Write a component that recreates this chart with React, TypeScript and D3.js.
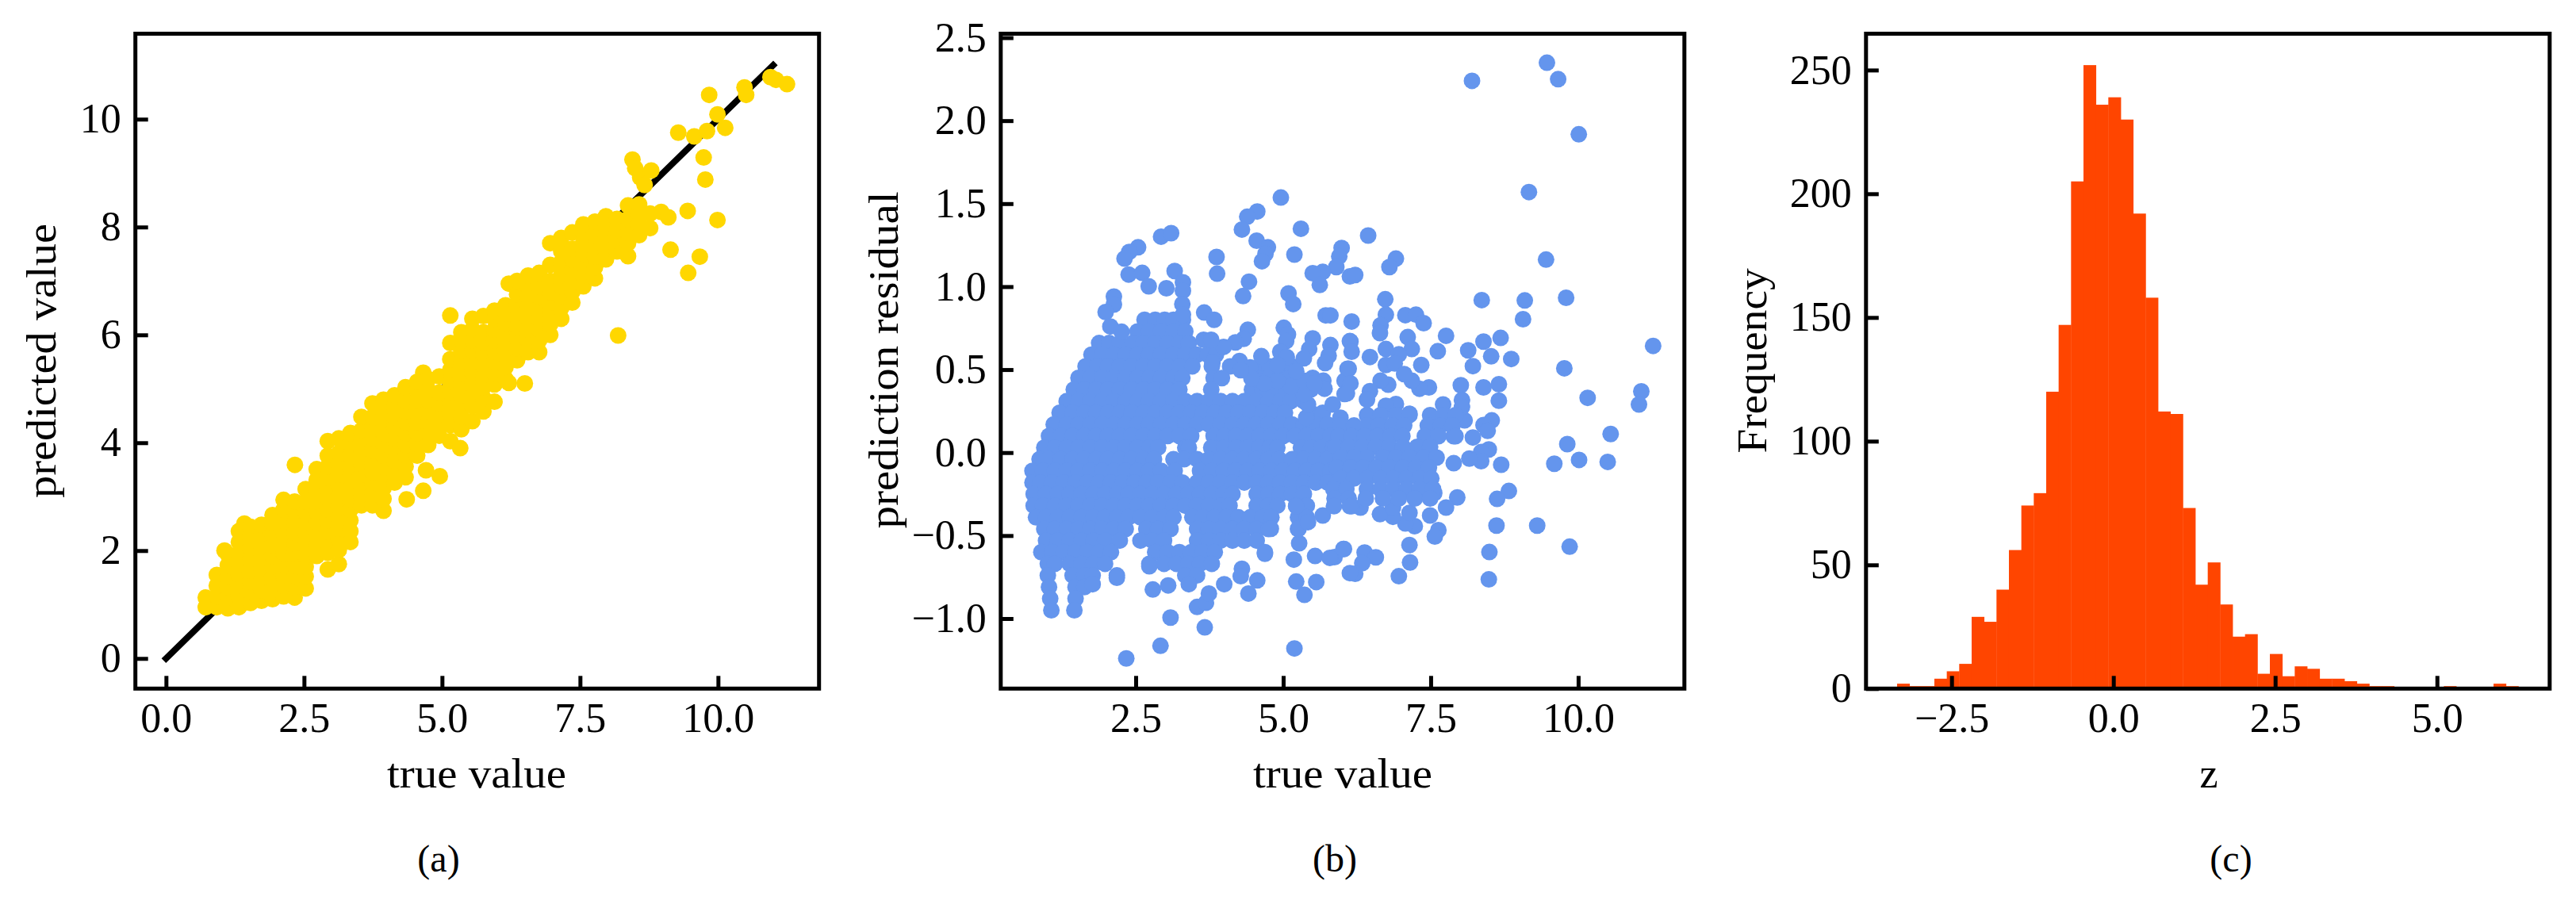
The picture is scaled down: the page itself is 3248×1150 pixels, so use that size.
import React, { useRef, useEffect } from "react";
import * as d3 from "d3";

const SERIF = "'Liberation Serif', serif";

// panel (a): true value -> list of predicted values
const predictedColumns: [number, number[]][] = [
  [0.72, [0.95, 1.13]],
  [0.92, [0.95, 1.15, 1.35, 1.55]],
  [1.06, [2.0]],
  [1.12, [0.93, 1.13, 1.33, 1.53, 1.73, 1.93]],
  [1.32, [0.95, 1.15, 1.35, 1.55, 1.75, 1.95, 2.16, 2.36]],
  [1.42, [2.5]],
  [1.53, [1.03, 1.23, 1.43, 1.63, 1.83, 2.04, 2.24, 2.44]],
  [1.73, [1.07, 1.27, 1.47, 1.67, 1.87, 2.08, 2.28, 2.48]],
  [1.93, [1.1, 1.3, 1.5, 1.7, 1.9, 2.11, 2.31, 2.51, 2.66]],
  [2.13, [1.15, 1.35, 1.55, 1.75, 1.96, 2.16, 2.36, 2.56, 2.76, 2.94]],
  [2.33, [1.13, 1.33, 1.53, 1.73, 1.94, 2.14, 2.34, 2.54, 2.74, 2.91]],
  [2.53, [1.3, 1.52, 1.7, 1.9, 2.11, 2.31, 2.51, 2.71, 2.91, 3.14]],
  [2.73, [1.9, 2.11, 2.31, 2.51, 2.71, 2.91, 3.11, 3.31, 3.51]],
  [2.93, [1.65, 1.96, 2.16, 2.36, 2.56, 2.76, 2.96, 3.16, 3.36, 3.56, 3.76, 4.03]],
  [3.13, [1.75, 2.01, 2.21, 2.41, 2.61, 2.81, 3.01, 3.21, 3.41, 3.61, 3.81, 4.08]],
  [3.34, [2.16, 2.36, 2.56, 2.76, 2.96, 3.16, 3.36, 3.56, 3.76, 3.98, 4.18]],
  [3.54, [2.84, 3.01, 3.21, 3.41, 3.61, 3.81, 4.03, 4.23, 4.48]],
  [3.74, [2.84, 3.06, 3.26, 3.46, 3.66, 3.86, 4.08, 4.28, 4.48, 4.73]],
  [3.94, [2.74, 2.96, 3.16, 3.36, 3.56, 3.76, 3.98, 4.18, 4.38, 4.58, 4.8]],
  [4.14, [3.26, 3.46, 3.66, 3.86, 4.08, 4.28, 4.48, 4.68, 4.88]],
  [4.34, [3.36, 3.56, 3.76, 3.96, 4.18, 4.38, 4.58, 4.78, 5.03]],
  [4.36, [2.95]],
  [4.55, [3.76, 3.98, 4.18, 4.38, 4.58, 4.78, 4.98, 5.13]],
  [4.66, [3.11, 5.3]],
  [4.71, [3.49]],
  [4.75, [3.96, 4.18, 4.38, 4.58, 4.78, 4.98, 5.18]],
  [4.96, [3.38]],
  [4.95, [4.13, 4.33, 4.53, 4.73, 4.93, 5.23]],
  [5.15, [4.03, 4.33, 4.53, 4.73, 4.93, 5.13, 5.35, 5.55, 5.85, 6.36]],
  [5.33, [3.9]],
  [5.35, [4.25, 4.48, 4.68, 4.88, 5.08, 5.3, 5.5, 5.7, 5.9, 6.05]],
  [5.55, [4.4, 4.68, 4.88, 5.08, 5.3, 5.5, 5.7, 5.9, 6.1, 6.3]],
  [5.75, [4.58, 4.83, 5.03, 5.23, 5.43, 5.65, 5.85, 6.05, 6.35]],
  [5.95, [4.76, 5.08, 5.3, 5.5, 5.7, 5.9, 6.1, 6.3, 6.45]],
  [6.15, [5.18, 5.4, 5.6, 5.8, 6.0, 6.2, 6.4, 6.55]],
  [6.21, [5.11, 6.95]],
  [6.36, [5.53, 5.75, 5.95, 6.15, 6.35, 6.55, 6.75, 7.0]],
  [6.5, [5.1]],
  [6.56, [5.68, 5.9, 6.1, 6.3, 6.5, 6.7, 6.9, 7.1]],
  [6.76, [5.68, 5.9, 6.1, 6.3, 6.5, 6.7, 6.9, 7.15]],
  [6.96, [6.0, 6.2, 6.4, 6.6, 6.8, 7.0, 7.3, 7.7]],
  [7.16, [6.3, 6.5, 6.7, 6.9, 7.1, 7.35, 7.55, 7.8]],
  [7.36, [6.6, 6.8, 7.0, 7.2, 7.4, 7.6, 7.9]],
  [7.56, [6.9, 7.1, 7.3, 7.5, 7.7, 7.9, 8.05]],
  [7.77, [7.05, 7.25, 7.45, 7.65, 7.85, 8.1]],
  [7.97, [7.4, 7.6, 7.8, 8.0, 8.2]],
  [8.17, [7.55, 7.75, 7.95, 8.15]],
  [8.37, [7.46, 7.7, 7.9, 8.15, 8.4]],
  [8.57, [7.85, 8.05, 8.25, 8.42]],
  [8.77, [7.98, 8.25]],
  [8.97, [8.28]],
  [9.1, [8.18]],
  [9.14, [7.58]],
  [8.45, [9.25]],
  [8.5, [9.09]],
  [8.59, [8.92]],
  [8.67, [8.78]],
  [8.79, [9.05]],
  [9.28, [9.75]],
  [9.45, [8.3]],
  [9.46, [7.15]],
  [9.57, [9.68]],
  [9.67, [7.45]],
  [9.74, [9.29]],
  [9.77, [8.88]],
  [9.8, [9.78]],
  [9.84, [10.45]],
  [9.99, [10.09, 8.13]],
  [10.13, [9.84]],
  [10.48, [10.59]],
  [10.51, [10.45]],
  [10.95, [10.78]],
  [11.05, [10.73]],
  [11.25, [10.65]],
  [8.19, [5.99]],
  [2.335, [3.59]],
];

// panel (b): the dense body, residual -> list of true values
const residualRows: [number, number[]][] = [
  [0.8, [2.65, 2.83, 2.99, 3.14, 3.3]],
  [0.73, [2.53, 2.73, 2.93, 3.14, 3.34]],
  [0.66, [1.88, 2.05, 2.23, 2.45, 2.63, 2.83, 3.04, 3.24, 3.4]],
  [0.59, [1.75, 1.93, 2.13, 2.33, 2.53, 2.73, 2.93, 3.14, 3.34, 3.54, 3.72, 3.86]],
  [0.52, [1.65, 1.85, 2.03, 2.23, 2.43, 2.63, 2.83, 3.04, 3.24, 3.46, 3.79, 4.6, 4.77, 5.0, 5.15]],
  [0.45, [1.53, 1.73, 1.93, 2.13, 2.33, 2.53, 2.73, 2.93, 3.14, 3.29, 3.82, 4.55, 4.75, 4.95, 5.1, 5.5]],
  [0.38, [1.45, 1.63, 1.83, 2.03, 2.23, 2.43, 2.63, 2.83, 3.04, 3.24, 3.78, 4.47, 4.65, 4.85, 5.05, 5.25, 5.47]],
  [0.31, [1.33, 1.53, 1.73, 1.93, 2.13, 2.33, 2.53, 2.73, 2.93, 3.14, 3.34, 3.54, 3.74, 3.94, 4.14, 4.34, 4.54, 4.75, 4.95, 5.13, 5.35]],
  [0.24, [1.21, 1.43, 1.63, 1.83, 2.03, 2.23, 2.43, 2.63, 2.83, 3.04, 3.24, 3.44, 3.64, 3.84, 4.04, 4.24, 4.44, 4.65, 4.85, 5.03, 5.47, 5.67]],
  [0.17, [1.11, 1.33, 1.53, 1.73, 1.93, 2.13, 2.33, 2.53, 2.73, 2.93, 3.14, 3.34, 3.54, 3.74, 3.94, 4.14, 4.34, 4.54, 4.75, 4.95, 5.15, 5.35, 5.55, 5.75]],
  [0.1, [1.03, 1.23, 1.43, 1.63, 1.83, 2.03, 2.23, 2.43, 2.63, 2.83, 3.04, 3.24, 3.44, 3.82, 4.0, 4.2, 4.4, 4.6, 4.8, 5.0, 5.2, 5.4, 5.6, 5.8]],
  [0.03, [0.95, 1.13, 1.33, 1.53, 1.73, 1.93, 2.13, 2.33, 2.53, 2.73, 2.88, 3.34, 3.4, 3.78, 4.0, 4.2, 4.4, 4.6, 4.77, 4.9, 5.3, 5.47, 5.65, 5.85]],
  [-0.04, [0.87, 1.03, 1.23, 1.43, 1.63, 1.83, 2.03, 2.23, 2.43, 2.63, 2.81, 3.14, 3.32, 3.54, 3.74, 3.94, 4.14, 4.34, 4.54, 4.75, 4.93, 5.15, 5.35, 5.55, 5.75]],
  [-0.11, [0.75, 0.93, 1.13, 1.33, 1.53, 1.73, 1.93, 2.13, 2.33, 2.53, 2.73, 2.93, 3.16, 3.59, 3.79, 3.99, 4.19, 4.39, 4.6, 4.8, 5.0, 5.2, 5.4, 5.6, 5.8]],
  [-0.18, [0.75, 0.88, 1.08, 1.28, 1.48, 1.68, 1.88, 2.08, 2.28, 2.48, 2.68, 2.88, 3.09, 3.29, 3.54, 3.74, 3.94, 4.14, 4.34, 4.55, 4.75, 4.95, 5.15, 5.35, 5.55, 5.75]],
  [-0.25, [0.77, 0.98, 1.18, 1.38, 1.58, 1.78, 1.98, 2.18, 2.38, 2.58, 2.78, 2.98, 3.19, 3.39, 3.59, 3.79, 3.99, 4.14, 4.55, 4.75, 4.95, 5.15, 5.35]],
  [-0.32, [0.77, 0.93, 1.13, 1.33, 1.53, 1.73, 1.93, 2.13, 2.33, 2.53, 2.73, 2.93, 3.14, 3.34, 3.54, 3.74, 3.94, 4.09, 4.55, 4.75, 4.9, 5.22, 5.4]],
  [-0.39, [0.81, 0.98, 1.18, 1.38, 1.58, 1.78, 1.98, 2.18, 2.38, 2.58, 2.78, 2.98, 3.14, 3.46, 3.64, 3.84, 4.04, 4.24, 4.44, 4.65, 4.8, 5.25, 5.4]],
  [-0.46, [0.95, 1.13, 1.33, 1.53, 1.73, 1.93, 2.13, 2.33, 2.68, 2.88, 3.09, 3.54, 3.74, 3.94, 4.14, 4.34, 4.55, 4.75, 5.25]],
  [-0.53, [0.98, 1.18, 1.38, 1.58, 1.78, 1.98, 2.23, 2.58, 2.78, 2.98, 3.54, 3.74, 3.94, 4.14, 4.34, 4.55]],
  [-0.6, [0.9, 1.08, 1.28, 1.48, 1.68, 1.88, 2.08, 2.83, 3.04, 3.24, 3.44, 3.64, 3.84, 4.69]],
  [-0.67, [1.01, 1.13, 1.38, 1.58, 1.78, 1.98, 2.73, 2.98, 3.19, 3.39, 3.59, 3.79]],
  [-0.74, [1.01, 1.43, 1.63, 1.77, 2.18, 3.34, 3.54]],
  [-0.81, [1.03, 1.48, 1.63]],
  [-0.88, [1.05, 1.48]],
  [-0.95, [1.07, 1.46]],
];

// panel (b): everything that can be told apart, [true value, residual]
const residualPoints: [number, number][] = [
  [9.47, 2.349], [9.66, 2.25], [8.2, 2.24], [10.01, 1.918], [9.165, 1.57], [4.96, 1.537], [4.56, 1.453], [4.39, 1.421],
  [4.3, 1.344], [5.3, 1.349], [2.93, 1.301], [3.1, 1.322], [2.54, 1.237], [2.39, 1.209], [2.31, 1.169], [3.87, 1.179],
  [3.88, 1.078], [4.55, 1.277], [4.74, 1.237], [4.7, 1.198], [4.64, 1.153], [5.19, 1.193], [5.99, 1.233], [5.95, 1.182],
  [5.9, 1.118], [5.67, 1.089], [5.5, 1.081], [5.62, 1.01], [6.13, 1.062], [2.38, 1.073], [2.61, 1.083], [2.72, 1.002],
  [3.16, 1.094], [3.3, 1.026], [3.3, 0.975], [3.02, 0.99], [3.29, 0.895], [3.3, 0.831], [2.13, 0.94], [2.13, 0.892],
  [1.99, 0.847], [2.07, 0.76], [2.26, 0.728], [4.42, 1.03], [4.32, 0.943], [5.09, 0.959], [5.17, 0.895], [5.72, 0.827],
  [5.8, 0.827], [6.16, 0.79], [3.66, 0.844], [3.83, 0.8], [4.4, 0.74], [4.33, 0.685], [4.19, 0.664], [3.99, 0.637],
  [3.65, 0.68], [3.78, 0.68], [5.01, 0.752], [5.08, 0.712], [5.05, 0.672], [5.5, 0.688], [5.44, 0.624], [5.35, 0.568],
  [5.8, 0.648], [5.77, 0.584], [5.71, 0.54], [6.13, 0.672], [6.09, 0.505], [4.63, 0.581], [4.95, 0.608], [5.06, 0.576],
  [4.26, 0.552], [4.1, 0.52], [4.44, 0.513], [3.8, 0.541], [5.68, 0.433], [5.7, 0.385], [6.04, 0.433], [6.04, 0.353],
  [5.84, 0.29], [5.97, 0.21], [5.39, 0.21], [5.42, 0.29], [5.35, 0.353], [5.13, 0.4], [4.9, 0.433], [5.35, 0.433],
  [5.53, 0.417], [4.9, 0.53], [5.22, 0.49], [4.68, 0.417], [4.46, 0.449], [4.28, 0.497], [3.96, 0.449],
  [9.455, 1.163], [8.365, 0.919], [9.095, 0.917], [9.795, 0.933], [9.065, 0.804], [6.73, 0.924], [6.74, 0.831], [6.44, 1.308],
  [6.22, 1.07], [6.91, 1.169], [6.8, 1.118], [6.65, 0.767], [6.64, 0.72], [7.07, 0.828], [7.25, 0.831], [7.38, 0.78],
  [7.76, 0.704], [7.62, 0.611], [6.14, 0.669], [6.16, 0.608], [7.11, 0.696], [7.18, 0.624], [8.395, 0.669], [8.685, 0.691],
  [8.525, 0.58], [8.135, 0.616], [8.215, 0.521], [8.865, 0.564], [9.765, 0.508], [11.27, 0.643], [11.07, 0.369], [11.03, 0.29],
  [10.16, 0.33], [8.01, 0.406], [8.03, 0.317], [8.395, 0.393], [8.655, 0.412], [8.655, 0.313], [6.47, 0.576], [7.34, 0.528],
  [6.11, 0.505], [6.74, 0.624], [6.96, 0.592], [6.74, 0.528], [6.89, 0.537], [6.14, 0.417], [6.08, 0.357], [6.78, 0.409],
  [6.65, 0.433], [7.47, 0.393], [7.31, 0.385], [7.18, 0.433], [7.05, 0.473], [6.47, 0.37], [6.42, 0.32], [7.71, 0.29],
  [6.91, 0.293], [6.74, 0.282], [7.14, 0.234], [10.55, 0.112], [9.815, 0.051], [10.015, -0.044], [9.595, -0.067], [10.5, -0.056],
  [8.695, -0.073], [8.825, -0.231], [8.625, -0.279], [7.95, -0.27], [8.615, -0.44], [9.305, -0.44], [9.855, -0.567], [8.495, -0.599],
  [8.485, -0.764], [8.535, 0.194], [8.395, 0.166], [8.465, 0.131], [8.075, 0.194], [8.215, 0.091], [8.485, 0.019], [8.355, 0.003],
  [8.355, -0.052], [8.155, -0.036], [7.89, -0.064], [8.03, 0.274], [7.83, 0.194], [7.89, 0.099], [7.45, -0.252], [7.56, -0.244],
  [7.76, -0.331], [7.49, -0.379], [7.63, -0.467], [7.57, -0.506], [7.23, -0.443], [7.07, -0.427], [7.14, -0.363], [6.86, -0.387],
  [6.64, -0.371], [6.86, -0.331], [6.31, -0.331], [6.16, -0.323], [7.14, -0.557], [7.15, -0.662], [6.96, -0.745], [6.02, -0.581],
  [6.38, -0.602], [6.57, -0.631], [6.34, -0.666], [6.22, -0.73], [5.87, -0.63],
  [6.42, 0.226], [6.65, 0.226], [6.91, 0.226], [7.14, 0.226], [7.49, 0.226], [7.72, 0.226], [7.92, 0.226],
  [5.97, 0.163], [6.2, 0.163], [6.42, 0.163], [6.62, 0.163], [6.85, 0.163], [7.05, 0.163], [7.45, 0.163], [7.67, 0.163], [7.87, 0.163],
  [5.94, 0.099], [6.16, 0.099], [6.38, 0.099], [6.6, 0.099], [6.82, 0.099], [7.02, 0.099], [7.4, 0.099], [7.63, 0.099], [7.92, 0.099],
  [5.89, 0.035], [6.11, 0.035], [6.34, 0.035], [6.57, 0.035], [6.8, 0.035], [7.03, 0.035], [7.27, 0.035], [7.49, 0.035],
  [5.98, -0.03], [6.2, -0.03], [6.42, -0.03], [6.69, -0.03], [6.91, -0.03], [7.14, -0.03], [7.38, -0.03], [7.6, -0.03],
  [5.91, -0.09], [6.14, -0.09], [6.36, -0.09], [6.58, -0.09], [6.8, -0.09], [7.03, -0.09], [7.25, -0.09], [7.47, -0.09],
  [5.98, -0.156], [6.2, -0.156], [6.42, -0.156], [6.65, -0.156], [6.87, -0.156], [7.09, -0.156], [7.31, -0.156], [7.51, -0.156],
  [5.85, -0.22], [6.07, -0.22], [6.42, -0.22], [6.65, -0.22], [6.87, -0.22], [7.09, -0.22], [7.31, -0.22], [7.54, -0.22],
  [5.87, -0.276], [6.11, -0.276], [6.4, -0.276], [6.69, -0.276], [6.96, -0.276], [7.23, -0.276], [7.49, -0.276],
  [2.18, -0.754], [1.77, -0.793], [2.73, -0.685], [2.79, -0.825], [3.05, -0.8], [3.4, -0.793], [3.54, -0.93], [3.69, -0.905],
  [3.74, -0.849], [4.0, -0.793], [4.3, -0.7], [4.28, -0.745], [4.56, -0.77], [4.41, -0.849], [3.09, -0.994], [3.67, -1.053],
  [2.92, -1.164], [2.34, -1.24], [5.19, -1.18], [5.18, -0.645], [5.27, -0.546], [5.26, -0.459], [5.42, -0.419], [5.54, -0.623],
  [5.79, -0.634], [6.03, -0.581], [5.22, -0.777], [5.56, -0.78], [5.36, -0.857], [6.13, -0.726], [4.69, -0.61], [4.79, -0.459],
  [5.22, -0.323], [5.67, -0.379], [5.86, -0.323], [6.13, -0.323],
];

// panel (c): one count per bin, bins run from zStart in steps of zBinWidth
const zStart = -3.342;
const zBinWidth = 0.192;
const zCounts = [
  2, 1, 1, 4, 7, 10, 29, 27, 40, 56,
  74, 79, 120, 147, 205, 252, 236, 239, 230, 192,
  158, 112, 111, 73, 42, 51, 34, 21, 22, 6,
  14, 5, 9, 8, 4, 4, 3, 2, 1, 1,
  0, 0, 0, 0, 1, 0, 0, 0, 2, 1,
];

const lineEnds = [0, 11];
const trueTicks = [0, 2.5, 5, 7.5, 10];
const predictedTicks = [0, 2, 4, 6, 8, 10];
const residualXTicks = [2.5, 5, 7.5, 10];
const residualYTicks = [-1, -0.5, 0, 0.5, 1, 1.5, 2, 2.5];
const zTicks = [-2.5, 0, 2.5, 5];
const freqTicks = [0, 50, 100, 150, 200, 250];

const fmt1 = (d: d3.NumberValue) => d3.format(".1f")(+d).replace("-", "\u2212");
const fmt0 = (d: d3.NumberValue) => d3.format("d")(+d);

const TOP = 42.5;
const BOTTOM = 868.3;

function drawAxes(
  svg: d3.Selection<SVGSVGElement, unknown, null, undefined>,
  x: d3.ScaleLinear<number, number>,
  y: d3.ScaleLinear<number, number>,
  xTicks: number[],
  yTicks: number[],
  yFormat: (d: d3.NumberValue) => string
) {
  const [left, right] = x.range();
  svg
    .append("rect")
    .attr("x", left)
    .attr("y", TOP)
    .attr("width", right - left)
    .attr("height", BOTTOM - TOP)
    .attr("fill", "none")
    .attr("stroke", "#000")
    .attr("stroke-width", 5);

  const bottom = svg
    .append("g")
    .attr("transform", `translate(0,${BOTTOM})`)
    .call(d3.axisBottom(x).tickValues(xTicks).tickSize(-16).tickPadding(18).tickFormat(fmt1));
  const side = svg
    .append("g")
    .attr("transform", `translate(${left},0)`)
    .call(d3.axisLeft(y).tickValues(yTicks).tickSize(-16).tickPadding(18).tickFormat(yFormat));

  [bottom, side].forEach((g) => {
    g.select(".domain").remove();
    g.selectAll("line").attr("stroke", "#000").attr("stroke-width", 5);
    g.selectAll("text").attr("fill", "#000").attr("font-family", SERIF).attr("font-size", 52);
  });
}

function addText(
  svg: d3.Selection<SVGSVGElement, unknown, null, undefined>,
  label: string,
  x: number,
  y: number,
  size: number,
  width?: number,
  rotate?: boolean
) {
  const t = svg
    .append("text")
    .attr("text-anchor", "middle")
    .attr("font-family", SERIF)
    .attr("font-size", size)
    .attr("fill", "#000")
    .attr("transform", `translate(${x},${y})${rotate ? " rotate(-90)" : ""}`)
    .text(label);
  if (width) t.attr("textLength", width).attr("lengthAdjust", "spacingAndGlyphs");
}

const App: React.FC = () => {
  const svgRef = useRef<SVGSVGElement>(null);

  useEffect(() => {
    if (!svgRef.current) return;
    const svg = d3.select(svgRef.current);
    svg.selectAll("*").remove();

    // (a) predicted against true
    const xA = d3.scaleLinear().domain([-0.555, 11.83]).range([170.7, 1032.7]);
    const yA = d3.scaleLinear().domain([-0.559, 11.585]).range([BOTTOM, TOP]);
    const predicted = predictedColumns.flatMap(([tv, ys]) => ys.map((p) => [tv, p] as [number, number]));

    svg
      .append("path")
      .attr("d", d3.line<number>().x((d) => xA(d)).y((d) => yA(d))(lineEnds))
      .attr("stroke", "#000")
      .attr("stroke-width", 8)
      .attr("stroke-linecap", "square");
    svg
      .append("g")
      .selectAll("circle")
      .data(predicted)
      .join("circle")
      .attr("cx", (d) => xA(d[0]))
      .attr("cy", (d) => yA(d[1]))
      .attr("r", 10.5)
      .attr("fill", "#FFD700");
    drawAxes(svg, xA, yA, trueTicks, predictedTicks, fmt0);
    addText(svg, "true value", 601, 993, 52, 226);
    addText(svg, "predicted value", 70, 455, 52, 346, true);
    addText(svg, "(a)", 553, 1099, 48);

    // (b) residual against true
    const xB = d3.scaleLinear().domain([0.212, 11.8]).range([1261.8, 2123.8]);
    const yB = d3.scaleLinear().domain([-1.422, 2.524]).range([BOTTOM, TOP]);
    const residuals = [
      ...residualRows.flatMap(([r, xs]) => xs.map((tv) => [tv, r] as [number, number])),
      ...residualPoints,
    ];
    svg
      .append("g")
      .selectAll("circle")
      .data(residuals)
      .join("circle")
      .attr("cx", (d) => xB(d[0]))
      .attr("cy", (d) => yB(d[1]))
      .attr("r", 10.5)
      .attr("fill", "#6495ED");
    drawAxes(svg, xB, yB, residualXTicks, residualYTicks, fmt1);
    addText(svg, "true value", 1693, 993, 52, 226);
    addText(svg, "prediction residual", 1132, 454, 52, 425, true);
    addText(svg, "(b)", 1683, 1099, 48);

    // (c) histogram of z
    const xC = d3.scaleLinear().domain([-3.822, 6.741]).range([2352.8, 3214.8]);
    const yC = d3.scaleLinear().domain([0, 264.7]).range([BOTTOM, TOP]);
    svg
      .append("g")
      .selectAll("rect")
      .data(zCounts)
      .join("rect")
      .attr("x", (_, i) => xC(zStart + i * zBinWidth))
      .attr("width", xC(zBinWidth) - xC(0) + 0.4)
      .attr("y", (d) => yC(d))
      .attr("height", (d) => yC(0) - yC(d))
      .attr("fill", "#FF4500");
    drawAxes(svg, xC, yC, zTicks, freqTicks, fmt0);
    addText(svg, "z", 2785, 993, 52);
    addText(svg, "Frequency", 2227, 455, 52, 233, true);
    addText(svg, "(c)", 2813, 1099, 48);
  }, []);

  return (
    <svg
      ref={svgRef}
      width={3248}
      height={1150}
      style={{ position: "absolute", left: 0, top: 0, background: "#fff" }}
    />
  );
};

export default App;
